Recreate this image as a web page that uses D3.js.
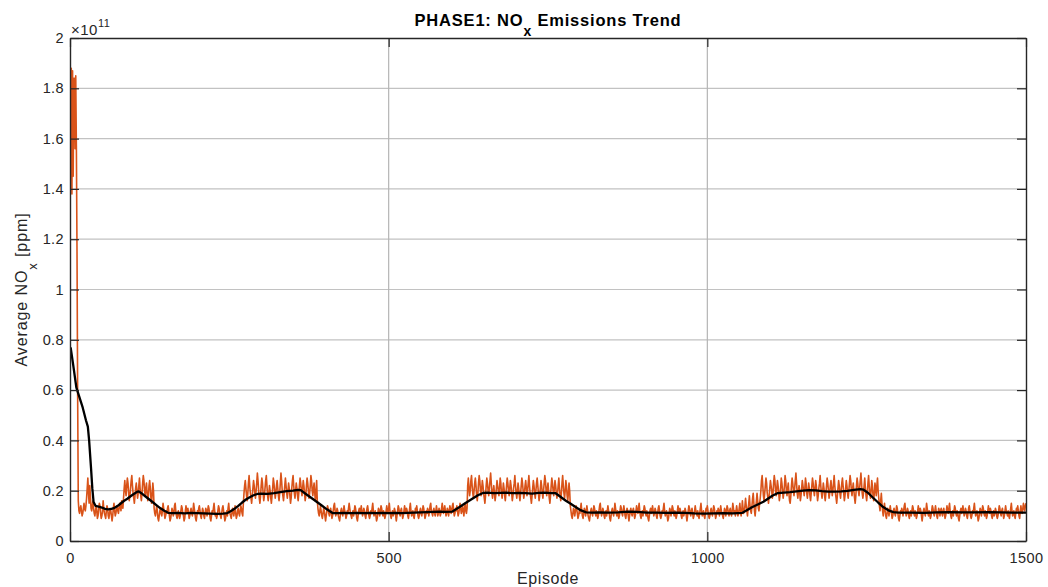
<!DOCTYPE html>
<html>
<head>
<meta charset="utf-8">
<script src="https://cdn.jsdelivr.net/npm/d3@7"></script>
<style>
  html, body { margin: 0; padding: 0; background: #ffffff; }
  svg { display: block; font-family: "Liberation Sans", Arial, Helvetica, sans-serif; }
</style>
</head>
<body>
<svg id="chart" width="1048" height="587"></svg>
<script>
// Average NOx per episode, in units of 1e9 ppm, split by training phase.
const noxWarmup = [162,188,138,187,145,184,184,156,185,157,115,58,16];
const noxLowA = [
  12,11,13,14,12,10,11,13,15,13,12,14,17,21,25,19,15,22,18,13,
  12,14,16,13,11,10,12,14,12,9,10,13,15,14,11,9,10,12,16,13,
  11,10,9,12,14,13,10,9,11,13,12,10,8,10,13,15,12,10,11,13,
  14,12,11,13,15,14,12,16,15,13
];
const noxHighA = [
  17,21,24,20,18,22,25,23,19,16,18,21,24,26,22,19,17,15,18,21,
  23,20,17,19,22,25,21,18,16,19,23,26,24,20,18,21,23,19,16,18,
  22,24,21,17,15,19,23,20
];
const noxLowB = [
  13,11,10,12,14,12,9,8,10,12,13,11,10,12,15,13,11,9,10,12,
  11,13,14,12,10,8,9,11,13,12,10,11,14,15,12,10,9,11,12,10,
  9,10,12,14,13,11,10,8,9,12,14,12,11,13,11,9,10,12,13,11,
  10,12,15,13,11,9,8,10,12,11,13,14,12,10,9,11,13,12,10,9,
  11,13,12,10,12,14,13,11,9,8,10,12,11,13,15,12,10,11,9,10,
  12,14,13,11,10,9,11,13,14,12,10,8,9,11,12,10,13,15,12,11,
  10,9,11,13,12,10,12,14,11,9,10,12,13,11,10,12,14,13,11,10
];
const noxHighB = [
  15,19,22,24,21,18,16,19,23,26,22,19,17,15,18,21,24,22,19,17,
  20,23,27,24,20,17,15,18,22,25,23,19,16,18,21,24,26,22,18,16,
  19,22,20,17,15,18,21,25,23,20,17,19,22,24,21,18,16,19,23,27,
  24,20,18,16,19,22,25,22,19,17,20,23,21,18,15,17,21,24,26,22,
  19,17,20,23,21,18,16,19,22,25,23,20,18,21,24,22,19,16,18,22,
  25,23,20,17,19,22,26,24,20,18,21,23,19,16,20,24
];
const noxLowC = [
  16,13,11,10,12,14,12,10,9,11,13,12,10,8,10,12,14,13,11,10,
  12,13,11,9,10,12,14,15,12,10,11,13,12,10,9,8,10,12,13,11,
  10,12,14,12,11,9,10,12,11,13,15,13,11,10,9,11,12,10,12,14,
  13,11,9,8,10,12,13,11,12,14,12,10,11,13,12,10,9,11,13,14,
  12,10,9,10,12,11,13,15,12,10,11,12,10,8,9,11,13,12,10,12,
  14,13,11,10,12,11,9,10,12,14,12,11,13,15,12,10,9,11,12,10,
  11,13,12,10,8,10,12,14,13,11,10,12,13,11,9,10,12,14,12,11,
  13,12,10,9,11,13,15,12,10,11,12,10,9,11,13,12,14,12,10,9,
  10,12,13,11,10,12,14,13,11,9,10,12,11,13,12,10,12,14,15,12,
  11,10,12,13,11,10,12,14,12,10,11,13,12,10,11,13,15,13,11,12,
  14,12,10,11,13,12,10,12,14,13,11,12,14,15,12,10,11,13,12,14,
  12,10,11,13,15,13,11,12,14,12,10,13,15,12,11,13
];
const noxHighC = [
  22,25,21,18,20,24,26,22,19,17,20,23,25,22,18,16,19,23,26,24,
  20,18,21,24,22,19,17,15,18,22,25,23,20,18,21,24,27,23,19,17,
  20,22,19,16,18,21,24,22,20,18,21,25,23,19,17,20,23,21,18,16,
  19,22,25,23,20,18,21,24,22,19,16,18,21,23,26,22,19,17,20,23,
  21,18,16,19,22,25,23,20,17,19,22,24,21,18,20,23,26,22,19,17,
  15,18,21,24,22,19,17,20,23,25,22,19,16,18,21,24,22,19,17,20,
  23,26,24,20,18,21,23,20,17,15,18,22,25,23,20,18,21,24,22,19,
  17,19,22,25,21,18,16,19,23,26,22,19,17,20,24,22,18,16,19,23,
  20
];
const noxLowD = [
  14,12,10,9,11,13,12,10,12,14,13,11,9,10,12,11,13,15,12,10,
  9,11,13,12,10,12,14,12,10,9,8,10,12,13,11,10,12,14,13,11,
  10,12,11,9,10,12,14,15,12,10,11,13,12,10,9,11,12,10,12,14,
  12,11,9,8,10,12,13,11,10,12,15,13,11,10,12,11,9,10,12,14,
  13,11,10,12,14,12,10,9,11,13,12,10,8,10,12,13,11,10,12,13,
  11,9,10,12,14,12,11,13,15,12,10,9,11,12,10,12,14,13,11,10,
  12,11,9,8,10,12,13,11,12,14,12,10,11,13,12,10,9,11,13,14,
  12,10,9,10,12,11,13,15,12,10,11,12,10,8,9,11,13,12,10,12,
  14,13,11,10,12,11,9,10,12,14,12,11,13,12,10,9,11,12,10,11,
  13,12,10,8,10,12,14,13,11,10,12,13,11,9,10,12,14,12,11,10,
  12,10,9,11,13,15,12,10,11,12,10,9,11,13,12,14,12,10,9,10,
  12,13,11,10,12,14,13,11,9,10,12,11,13,12,10,12,14,12,11,10,
  9,11,13,12,10,12,14,13,11,10,12,13,11,10,12,15,13,11,12,10,
  12,14,12,10,11,13,15,12,10,12,16,13,11,12,14,17,14,12,10,13,
  15,18,14,12,11,14,17,19,15,12,10,13,16,19,16,13,12,15,17
];
const noxHighD = [
  20,24,26,22,18,16,19,22,25,23,19,17,15,18,21,24,22,20,17,19,
  23,26,24,20,18,21,24,22,19,16,18,21,25,23,20,17,19,22,26,24,
  20,18,21,23,19,16,15,18,22,25,23,20,18,21,24,27,23,19,17,20,
  22,19,16,18,21,24,22,20,18,21,25,23,19,17,20,23,21,18,16,19,
  22,25,23,20,18,21,24,22,19,16,18,21,23,26,22,19,17,20,23,21,
  18,16,19,22,25,23,20,17,19,22,24,21,18,20,23,26,22,19,17,15,
  18,21,24,22,19,17,20,23,25,22,19,16,18,21,24,22,19,17,20,23,
  26,24,20,18,21,23,20,17,15,18,22,25,23,20,18,21,24,27,23,19,
  17,19,22,25,21,18,16,19,23,26,22,19,17,20,24,22,18,16,19,23,
  21,18,22,25,20,17,14
];
const noxLowE = [
  12,16,19,15,12,10,13,15,12,10,9,11,13,12,10,12,14,12,11,9,
  10,12,13,11,10,12,14,13,11,9,8,10,12,11,13,12,10,12,14,15,
  12,10,11,13,12,10,9,11,12,10,12,14,13,11,10,12,11,9,10,12,
  14,12,11,13,12,10,8,10,12,13,11,10,12,15,13,11,10,12,11,9,
  10,12,14,13,11,10,12,14,12,10,9,11,13,12,10,12,13,11,10,12,
  13,11,9,10,12,14,12,11,13,15,12,10,9,11,12,10,12,14,13,11,
  10,12,11,9,8,10,12,13,11,12,14,12,10,11,13,12,10,9,11,13,
  14,12,10,9,10,12,11,13,15,12,10,11,12,10,8,9,11,13,12,10,
  12,14,13,11,10,12,11,9,10,12,14,12,11,13,12,10,9,11,12,10,
  11,13,12,10,9,10,12,14,13,11,10,12,13,11,9,10,12,14,12,11,
  10,12,10,9,11,13,15,12,10,11,12,10,9,11,13,12,14,12,10,9,
  12,14,12,11,13,15,13,12,14,15
];

// Moving-average trend (units of 1e9 ppm) at selected episodes.
const trendEpisodes = [
  1,5,10,15,20,25,28,30,33,35,37,40,45,50,55,60,65,70,75,80,85,90,95,100,105,108,
  112,118,124,130,136,142,148,154,160,170,180,190,200,210,220,230,240,247,252,258,
  264,270,276,282,288,294,300,310,320,330,340,350,358,362,370,380,387,395,403,412,
  420,430,440,450,460,470,480,490,500,510,520,530,540,550,560,570,580,590,600,610,
  620,630,640,648,655,665,675,685,695,705,715,725,735,745,755,762,770,778,785,792,
  800,810,820,830,845,860,875,890,905,920,935,950,965,980,995,1010,1025,1040,1055,
  1062,1070,1079,1088,1095,1102,1110,1120,1130,1140,1150,1160,1170,1180,1190,1200,
  1210,1220,1230,1240,1245,1252,1260,1268,1276,1284,1292,1300,1320,1340,1360,1380,
  1400,1420,1440,1460,1480,1500
];
const trendValues = [
  77,70,61,57,53,48,45.5,40,29,21,15.5,14,13.7,13.3,12.8,12.6,12.8,13.2,14,15,16,16.8,17.8,18.7,19.5,19.7,
  19,17.8,16.6,15.4,14.2,13,12,11.2,11.1,11.2,11,11.2,11.1,11,10.9,10.8,10.9,11.1,11.8,12.8,
  14,15.3,16.5,17.4,18.2,18.7,18.8,18.7,19,19.4,19.8,20,20.3,20.2,18.7,16.9,15.6,14.1,12.6,11.1,
  11.1,11.2,11.1,11.2,11.1,11.2,11.1,11.2,11.1,11.2,11.1,11.2,11.3,11.4,11.5,11.6,11.7,11.6,11.7,13.3,
  15,16.6,18.2,19.1,19.2,19,19.1,19.2,19,19.1,19,18.8,19.1,19.2,19,19,17.5,16,14.9,13.7,
  12.4,11.4,11.3,11.4,11.3,11.4,11.7,11.6,11.3,11.3,11.2,11.3,11.2,11,10.9,11,11.1,11,11.2,
  12.2,13.4,14.5,15.6,16.8,18,19,19.2,19.4,19.7,20,20.2,20.1,19.8,19.6,19.6,
  19.7,19.9,20.3,20.6,20.4,19.2,17.2,15.3,13.5,12.2,11.5,11.3,11.3,11.2,11.4,11.5,
  11.4,11.4,11.5,11.4,11.3,11.3
];

// Axis ticks
const xTicks = [0, 500, 1000, 1500];
const xTickLabels = ["0", "500", "1000", "1500"];
const yTicks = [0, 20, 40, 60, 80, 100, 120, 140, 160, 180, 200];
const yTickLabels = ["0", "0.2", "0.4", "0.6", "0.8", "1", "1.2", "1.4", "1.6", "1.8", "2"];

const noxSeries = [].concat(noxWarmup, noxLowA, noxHighA, noxLowB, noxHighB,
                            noxLowC, noxHighC, noxLowD, noxHighD, noxLowE);
const noxPoints = noxSeries.map((v, i) => ({ ep: i + 1, v: v }));
const trendPoints = trendEpisodes.map((e, i) => ({ ep: e, v: trendValues[i] }));

const svg = d3.select("#chart");
const plot = { left: 70, right: 1026, top: 38, bottom: 541 };
const axisColor = "#262626";
const gridColor = "#c2c2c2";
const tickLen = 9;

const x = d3.scaleLinear().domain([0, 1500]).range([plot.left, plot.right]);
const y = d3.scaleLinear().domain([0, 200]).range([plot.bottom, plot.top]);

// Grid lines
const grid = svg.append("g");
grid.selectAll("line.gy").data(yTicks.slice(1, -1)).enter().append("line")
  .attr("x1", plot.left).attr("x2", plot.right)
  .attr("y1", d => y(d)).attr("y2", d => y(d))
  .attr("stroke", gridColor).attr("stroke-width", 1.2);
grid.selectAll("line.gx").data(xTicks.slice(1, -1)).enter().append("line")
  .attr("y1", plot.top).attr("y2", plot.bottom)
  .attr("x1", d => x(d)).attr("x2", d => x(d))
  .attr("stroke", "#b4b4b4").attr("stroke-width", 1.2);

// Series
svg.append("defs").append("clipPath").attr("id", "plotClip")
  .append("rect").attr("x", plot.left).attr("y", plot.top)
  .attr("width", plot.right - plot.left).attr("height", plot.bottom - plot.top);

const line = d3.line().x(d => x(d.ep)).y(d => y(d.v));
const series = svg.append("g").attr("clip-path", "url(#plotClip)");
series.append("path").datum(noxPoints)
  .attr("d", line).attr("fill", "none")
  .attr("stroke", "#D95319").attr("stroke-width", 1.6).attr("stroke-linejoin", "round");
series.append("path").datum(trendPoints)
  .attr("d", line).attr("fill", "none")
  .attr("stroke", "#000000").attr("stroke-width", 2.3).attr("stroke-linejoin", "round");

// Axes box with inward ticks
const axB = d3.axisBottom(x).tickValues(xTicks).tickSizeInner(-tickLen).tickSizeOuter(0).tickPadding(12)
  .tickFormat((d, i) => xTickLabels[i]);
const axT = d3.axisTop(x).tickValues(xTicks).tickSizeInner(-tickLen).tickSizeOuter(0).tickFormat("");
const axL = d3.axisLeft(y).tickValues(yTicks).tickSizeInner(-tickLen).tickSizeOuter(0).tickPadding(6)
  .tickFormat((d, i) => yTickLabels[i]);
const axR = d3.axisRight(y).tickValues(yTicks).tickSizeInner(-tickLen).tickSizeOuter(0).tickFormat("");

function styleAxis(g) {
  g.select(".domain").attr("stroke", axisColor).attr("stroke-width", 1.4);
  g.selectAll(".tick line").attr("stroke", axisColor).attr("stroke-width", 1.2);
  g.selectAll(".tick text").attr("fill", axisColor)
    .style("font-family", "'Liberation Sans', Arial, sans-serif").style("font-size", "14.5px")
    .style("letter-spacing", "0.4px");
}
svg.append("g").attr("transform", `translate(0,${plot.bottom})`).call(axB).call(styleAxis);
svg.append("g").attr("transform", `translate(0,${plot.top})`).call(axT).call(styleAxis);
svg.append("g").attr("transform", `translate(${plot.left},0)`).call(axL).call(styleAxis);
svg.append("g").attr("transform", `translate(${plot.right},0)`).call(axR).call(styleAxis);

// Exponent label
const expo = svg.append("text").attr("x", plot.left + 1).attr("y", 35)
  .attr("fill", axisColor).style("font-size", "15px").style("letter-spacing", "0.5px");
expo.append("tspan").text("\u00d710");
expo.append("tspan").attr("dy", -8).style("font-size", "11px").text("11");

// Title
const title = svg.append("text").attr("x", (plot.left + plot.right) / 2).attr("y", 26)
  .attr("text-anchor", "middle").attr("fill", "#000")
  .style("font-size", "16.5px").style("font-weight", "bold").style("letter-spacing", "0.8px");
title.append("tspan").text("PHASE1: NO");
title.append("tspan").attr("dy", 10).style("font-size", "14px").text("x");
title.append("tspan").attr("dy", -10).text(" Emissions Trend");

// Y label
const ylab = svg.append("text")
  .attr("transform", `translate(26.7,${(plot.top + plot.bottom) / 2}) rotate(-90)`)
  .attr("text-anchor", "middle").attr("fill", axisColor)
  .style("font-size", "16px").style("letter-spacing", "0.9px");
ylab.append("tspan").text("Average NO");
ylab.append("tspan").attr("dy", 10).style("font-size", "13px").text("x");
ylab.append("tspan").attr("dy", -10).text(" [ppm]");

// X label
svg.append("text").attr("x", (plot.left + plot.right) / 2).attr("y", 584)
  .attr("text-anchor", "middle").attr("fill", axisColor)
  .style("font-size", "16px").style("letter-spacing", "0.6px")
  .text("Episode");
</script>
</body>
</html>
